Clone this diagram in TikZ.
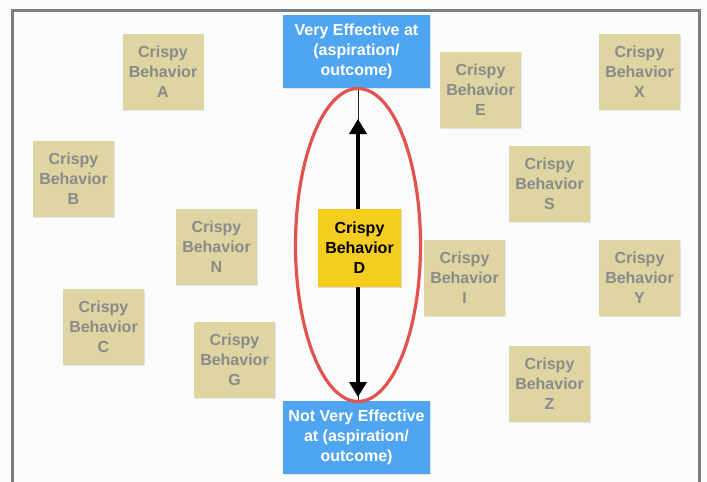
\documentclass[tikz,border=0pt]{standalone}
\usepackage{fontspec}
\setmainfont{Liberation Sans}
\usetikzlibrary{arrows.meta,shadows}

\definecolor{pagebg}{HTML}{FBFBFB}
\definecolor{framegray}{HTML}{7C7C7C}
\definecolor{notetan}{HTML}{DED5A2}
\definecolor{notetext}{HTML}{8A8A8A}
\definecolor{capblue}{HTML}{4FA5F2}
\definecolor{focusyellow}{HTML}{F4CD1F}
\definecolor{ringred}{HTML}{E2534F}

\tikzset{
  every node/.style={font=\bfseries\fontsize{16}{20}\selectfont, align=center, inner sep=0pt},
  sticky/.style={fill=notetan, text=notetext, minimum width=81pt, minimum height=76pt,
    drop shadow={shadow xshift=0.8pt, shadow yshift=-1.2pt, opacity=0.18}},
  focus/.style={fill=focusyellow, text=black, minimum width=83pt, minimum height=78pt,
    drop shadow={shadow xshift=0.8pt, shadow yshift=-1.2pt, opacity=0.25}},
  pole/.style={fill=capblue, text=white, minimum width=147pt, minimum height=73pt,
    drop shadow={shadow xshift=0.8pt, shadow yshift=-1.2pt, opacity=0.2}},
  spine/.style={draw=black!85, line width=1pt},
  axis/.style={draw=black, line width=3.6pt,
    {Triangle[width=17pt,length=15pt]}-{Triangle[width=17pt,length=15pt]}},
  ring/.style={draw=ringred, line width=3.2pt},
  board/.style={draw=framegray, line width=3pt}
}

\begin{document}
\begin{tikzpicture}[x=1pt, y=-1pt]
  % canvas
  \useasboundingbox (0,0) rectangle (707,482);
  \fill[pagebg] (0,0) rectangle (707,482);
  \begin{scope}
    \clip (0,0) rectangle (707,482);
    \draw[board] (12.5,10) rectangle (699.5,500);
  \end{scope}

  % the two poles of the scale
  \node[pole] (hi) at (356.5,51.5) {Very Effective at\\(aspiration/\\outcome)};
  \node[pole] (lo) at (356.5,437) {Not Very Effective\\at (aspiration/\\outcome)};

  % scale axis and ring
  \draw[spine] (hi.south -| 358,0) -- (lo.north -| 358,0);
  \coordinate (axtop) at (358,119);
  \coordinate (axbot) at (358,397);
  \draw[axis] (axtop) -- (axbot);
  \draw[ring] (358,245) ellipse [x radius=62.5, y radius=156.5];

  % the behavior being rated
  \node[focus] (D) at (359.5,248) {Crispy\\Behavior\\D};

  % other behaviors
  \node[sticky] (A) at (163,72)  {Crispy\\Behavior\\A};
  \node[sticky] (B) at (73.5,179) {Crispy\\Behavior\\B};
  \node[sticky] (C) at (103.5,327) {Crispy\\Behavior\\C};
  \node[sticky] (N) at (216.5,247) {Crispy\\Behavior\\N};
  \node[sticky] (G) at (234.5,360) {Crispy\\Behavior\\G};
  \node[sticky] (E) at (480.5,90) {Crispy\\Behavior\\E};
  \node[sticky] (S) at (549.5,184) {Crispy\\Behavior\\S};
  \node[sticky] (I) at (464.5,278) {Crispy\\Behavior\\I};
  \node[sticky] (Z) at (549.5,384) {Crispy\\Behavior\\Z};
  \node[sticky] (X) at (639.5,72) {Crispy\\Behavior\\X};
  \node[sticky] (Y) at (639.5,278) {Crispy\\Behavior\\Y};
\end{tikzpicture}
\end{document}
